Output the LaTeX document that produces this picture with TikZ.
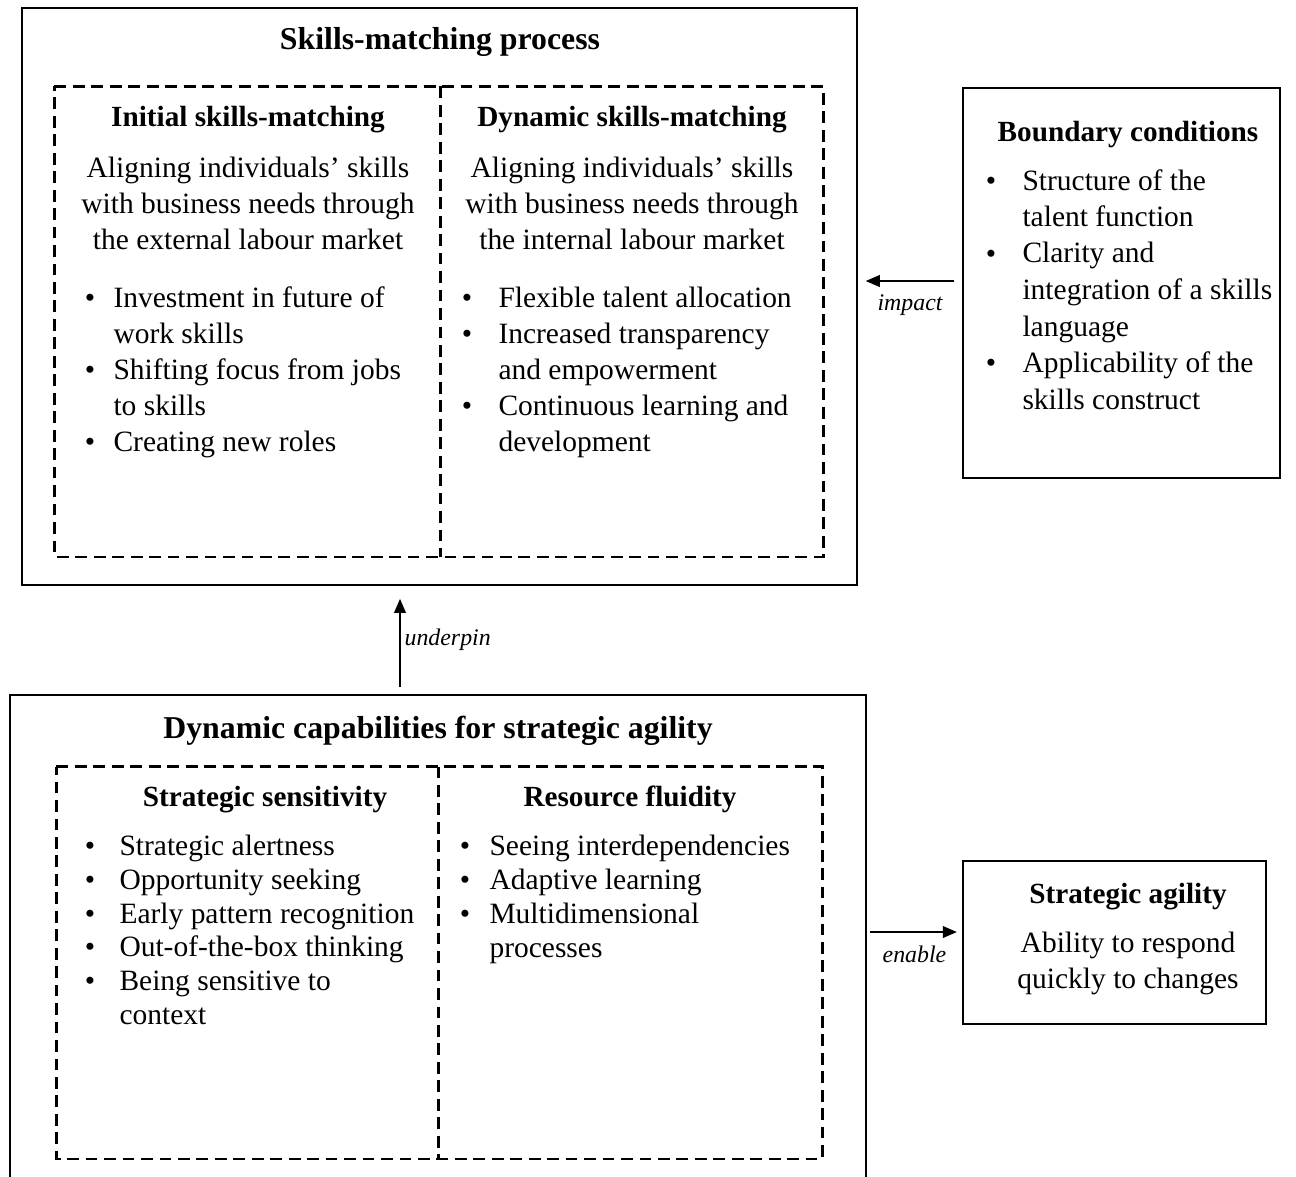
\documentclass[tikz,border=0pt]{standalone}
\usepackage{fontspec}
\setmainfont{Liberation Serif}
\usetikzlibrary{arrows.meta,fit}
\begin{document}
\begin{tikzpicture}[x=0.39pt,y=-0.39pt,
  box/.style={draw,line width=0.8pt,inner sep=0pt},
  area/.style={inner sep=0pt},
  dline/.style={draw,line width=0.8pt,dash pattern=on 4.6pt off 2.6pt},
  ttl/.style={anchor=base,inner sep=0pt,font=\fontsize{12.4}{15}\selectfont\bfseries},
  sub/.style={anchor=base,inner sep=0pt,font=\fontsize{11.4}{14}\selectfont\bfseries},
  ctr/.style={anchor=base,inner sep=0pt,align=center,font=\fontsize{11.5}{14.04}\selectfont},
  itm/.style={anchor=base west,inner sep=0pt,align=left,font=\fontsize{11.5}{14.04}\selectfont},
  itmb/.style={anchor=base west,inner sep=0pt,align=left,font=\fontsize{11.5}{13.26}\selectfont},
  itmc/.style={anchor=base west,inner sep=0pt,align=left,font=\fontsize{11.5}{14.24}\selectfont},
  bul/.style={anchor=base,inner sep=0pt,font=\fontsize{11.5}{14}\selectfont},
  lbl/.style={inner sep=0pt,font=\fontsize{9.3}{11}\selectfont\itshape},
  arr/.style={line width=0.6pt,-{Triangle[length=5.5pt,width=4.6pt]}}]
\clip (0,0) rectangle (1296,1176);
\fill[white] (0,0) rectangle (1296,1176);

% ---------- Skills-matching process ----------
\node[box,fit={(22,8)(857,585)}] (smp) {};
\node[ttl] (smpt) at (440,49) {Skills-matching process};
\node[area,fit={(55,87)(440,556)}] (ism) {};
\node[area,fit={(440,87)(823,556)}] (dsm) {};
\path[dline] (ism.north west) -- (dsm.north east) -- (dsm.south east) -- (ism.south west) -- cycle;
\path[dline] (ism.north east) -- (ism.south east);

\node[sub] (ismt) at (248,126) {Initial skills-matching};
\node[ctr] (ismd) at (248,249) {Aligning individuals’ skills\\with business needs through\\the external labour market};
\node[bul] (ib1) at (90,307) {\textbullet};
\node[itm] (i1) at (113,343) {Investment in future of\\work skills};
\node[bul] (ib2) at (90,379) {\textbullet};
\node[itm] (i2) at (113,415) {Shifting focus from jobs\\to skills};
\node[bul] (ib3) at (90,451) {\textbullet};
\node[itm] (i3) at (113,451) {Creating new roles};

\node[sub] (dsmt) at (632,126) {Dynamic skills-matching};
\node[ctr] (dsmd) at (632,249) {Aligning individuals’ skills\\with business needs through\\the internal labour market};
\node[bul] (db1) at (467,307) {\textbullet};
\node[itm] (d1) at (498,307) {Flexible talent allocation};
\node[bul] (db2) at (467,343) {\textbullet};
\node[itm] (d2) at (498,379) {Increased transparency\\and empowerment};
\node[bul] (db3) at (467,415) {\textbullet};
\node[itm] (d3) at (498,451) {Continuous learning and\\development};

% ---------- Boundary conditions ----------
\node[box,fit={(963,88)(1280,478)}] (bc) {};
\node[sub] (bct) at (1128,141) {Boundary conditions};
\node[bul] (bb1) at (991,190) {\textbullet};
\node[itmc] (b1) at (1022,226.5) {Structure of the\\talent function};
\node[bul] (bb2) at (991,263) {\textbullet};
\node[itmc] (b2) at (1022,336) {Clarity and\\integration of a skills\\language};
\node[bul] (bb3) at (991,372.5) {\textbullet};
\node[itmc] (b3) at (1022,409) {Applicability of the\\skills construct};

% ---------- Dynamic capabilities ----------
\node[box,fit={(10,695)(866,1190)}] (dc) {};
\node[ttl] (dct) at (438,738) {Dynamic capabilities for strategic agility};
\node[area,fit={(57,767)(438,1158)}] (ss) {};
\node[area,fit={(438,767)(822,1158)}] (rf) {};
\path[dline] (ss.north west) -- (rf.north east) -- (rf.south east) -- (ss.south west) -- cycle;
\path[dline] (ss.north east) -- (ss.south east);

\node[sub] (sst) at (265,806) {Strategic sensitivity};
\node[bul] (sb1) at (90,855) {\textbullet};
\node[itmb] (s1) at (119,855) {Strategic alertness};
\node[bul] (sb2) at (90,889) {\textbullet};
\node[itmb] (s2) at (119,889) {Opportunity seeking};
\node[bul] (sb3) at (90,923) {\textbullet};
\node[itmb] (s3) at (119,923) {Early pattern recognition};
\node[bul] (sb4) at (90,956) {\textbullet};
\node[itmb] (s4) at (119,956) {Out-of-the-box thinking};
\node[bul] (sb5) at (90,990) {\textbullet};
\node[itmb] (s5) at (119,1024) {Being sensitive to\\context};

\node[sub] (rft) at (630,806) {Resource fluidity};
\node[bul] (rb1) at (465,855) {\textbullet};
\node[itmb] (r1) at (489,855) {Seeing interdependencies};
\node[bul] (rb2) at (465,889) {\textbullet};
\node[itmb] (r2) at (489,889) {Adaptive learning};
\node[bul] (rb3) at (465,923) {\textbullet};
\node[itmb] (r3) at (489,957) {Multidimensional\\processes};

% ---------- Strategic agility ----------
\node[box,fit={(963,861)(1266,1024)}] (sa) {};
\node[sub] (sat) at (1128,903) {Strategic agility};
\node[ctr] (sad) at (1128,988) {Ability to respond\\quickly to changes};

% ---------- Connectors ----------
\coordinate (ya) at (0,281);
\coordinate (xu) at (400,0);
\coordinate (ye) at (0,932);
\draw[arr,shorten <=3pt,shorten >=3pt] (bc.west |- ya) -- (smp.east |- ya)
  node[lbl,midway,below=5pt] (impl) {impact};
\draw[arr,shorten <=2.7pt,shorten >=5pt] (dc.north -| xu) -- (smp.south -| xu)
  node[lbl,midway,right=1.5pt] (undl) {underpin};
\draw[arr,shorten <=1.2pt,shorten >=2pt] (dc.east |- ye) -- (sa.west |- ye)
  node[lbl,midway,below=5pt] (enal) {enable};
\end{tikzpicture}
\end{document}
